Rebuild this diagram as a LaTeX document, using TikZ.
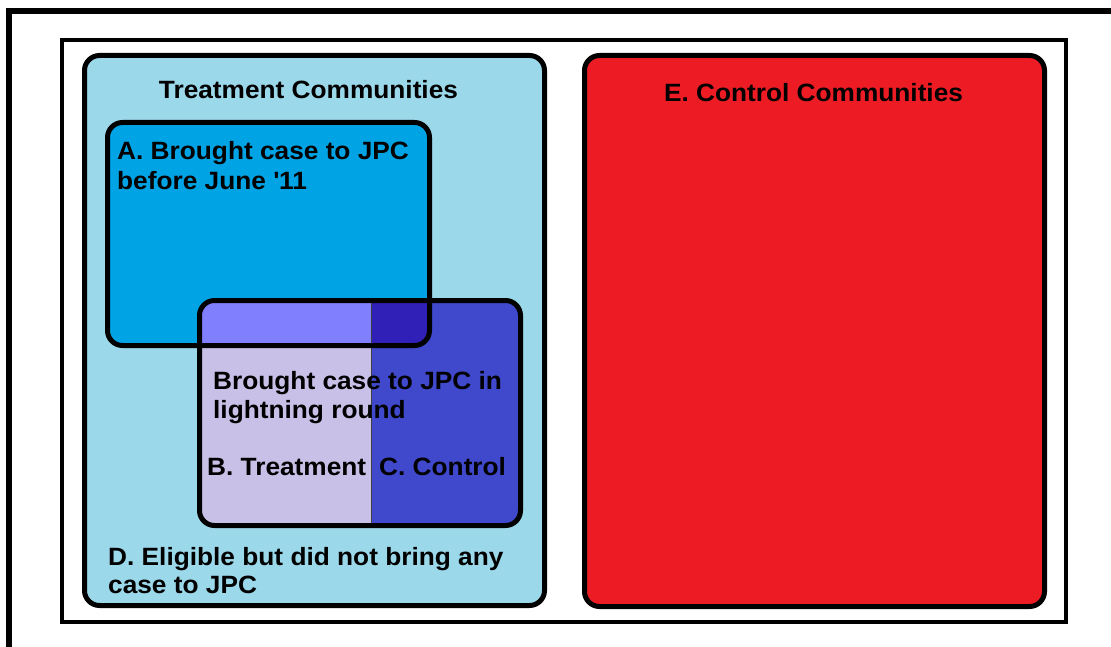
\documentclass[tikz,border=0pt]{standalone}
\usepackage{fontspec}
\setmainfont{Liberation Sans}[FakeStretch=1.05]
\usetikzlibrary{shadows}

\definecolor{commblue}{RGB}{155,216,234}
\definecolor{earlyblue}{RGB}{0,163,228}
\definecolor{treatlav}{RGB}{200,192,230}
\definecolor{ctrlblue}{RGB}{64,72,204}
\definecolor{treatovl}{RGB}{128,128,255}
\definecolor{ctrlovl}{RGB}{48,32,184}
\definecolor{ctrlred}{RGB}{237,28,36}

\tikzset{
  boxline/.style={draw=black, line width=5pt, rounded corners=15pt},
  softshadow/.style={drop shadow={shadow xshift=1.5pt, shadow yshift=-1.5pt, fill=black, opacity=0.35}},
  lbl/.style={font=\bfseries\fontsize{25}{30}\selectfont, text=black, inner sep=0pt, align=left},
}

\begin{document}
\begin{tikzpicture}[x=1pt, y=-1pt]
\useasboundingbox (0,0) rectangle (1111,647);
\fill[white] (0,0) rectangle (1111,647);

% outer and inner frames
\draw[line width=6pt] (9,11) rectangle (1130,670);
\draw[line width=4pt] (61.5,40.5) rectangle (1065.5,622);

% treatment and control communities
\path[boxline, fill=commblue, softshadow] (84.5,55.5) rectangle (544.5,605.5);
\path[boxline, fill=ctrlred, softshadow] (584.5,55.5) rectangle (1044.5,606.5);

% A: early cases
\fill[earlyblue, rounded corners=15pt] (107.5,122.5) rectangle (429.5,345.5);

% B / C: lightning round, split in two halves
\begin{scope}
  \clip[rounded corners=15pt] (199.5,300.5) rectangle (520.5,525.5);
  \fill[treatlav] (199.5,300.5) rectangle (371,525.5);
  \fill[ctrlblue] (371,300.5) rectangle (520.5,525.5);
  \clip[rounded corners=15pt] (107.5,122.5) rectangle (429.5,345.5);
  \fill[treatovl] (199.5,300.5) rectangle (371,345.5);
  \fill[ctrlovl] (371,300.5) rectangle (429.5,345.5);
\end{scope}
\draw[line width=0.8pt, black!75] (371,300.5) -- (371,525.5);

% borders on top
\draw[boxline] (107.5,122.5) rectangle (429.5,345.5);
\draw[boxline] (199.5,300.5) rectangle (520.5,525.5);

% labels
\node[lbl, anchor=base] (treatT) at (308.5,99) {Treatment Communities};
\node[lbl, anchor=base] (ctrlT) at (813.5,102) {E. Control Communities};
\node[lbl, anchor=base west] (aT1) at (117,160) {A. Brought case to JPC};
\node[lbl, anchor=base west] (aT2) at (117,190) {before June \textquotesingle11};
\node[lbl, anchor=base west] (lrT1) at (213,389) {Brought case to JPC in};
\node[lbl, anchor=base west] (lrT2) at (213,418) {lightning round};
\node[lbl, anchor=base west] (bT) at (207,475) {B. Treatment};
\node[lbl, anchor=base west] (cT) at (379,475) {C. Control};
\node[lbl, anchor=base west] (dT1) at (108,565) {D. Eligible but did not bring any};
\node[lbl, anchor=base west] (dT2) at (108,593) {case to JPC};
\end{tikzpicture}
\end{document}
